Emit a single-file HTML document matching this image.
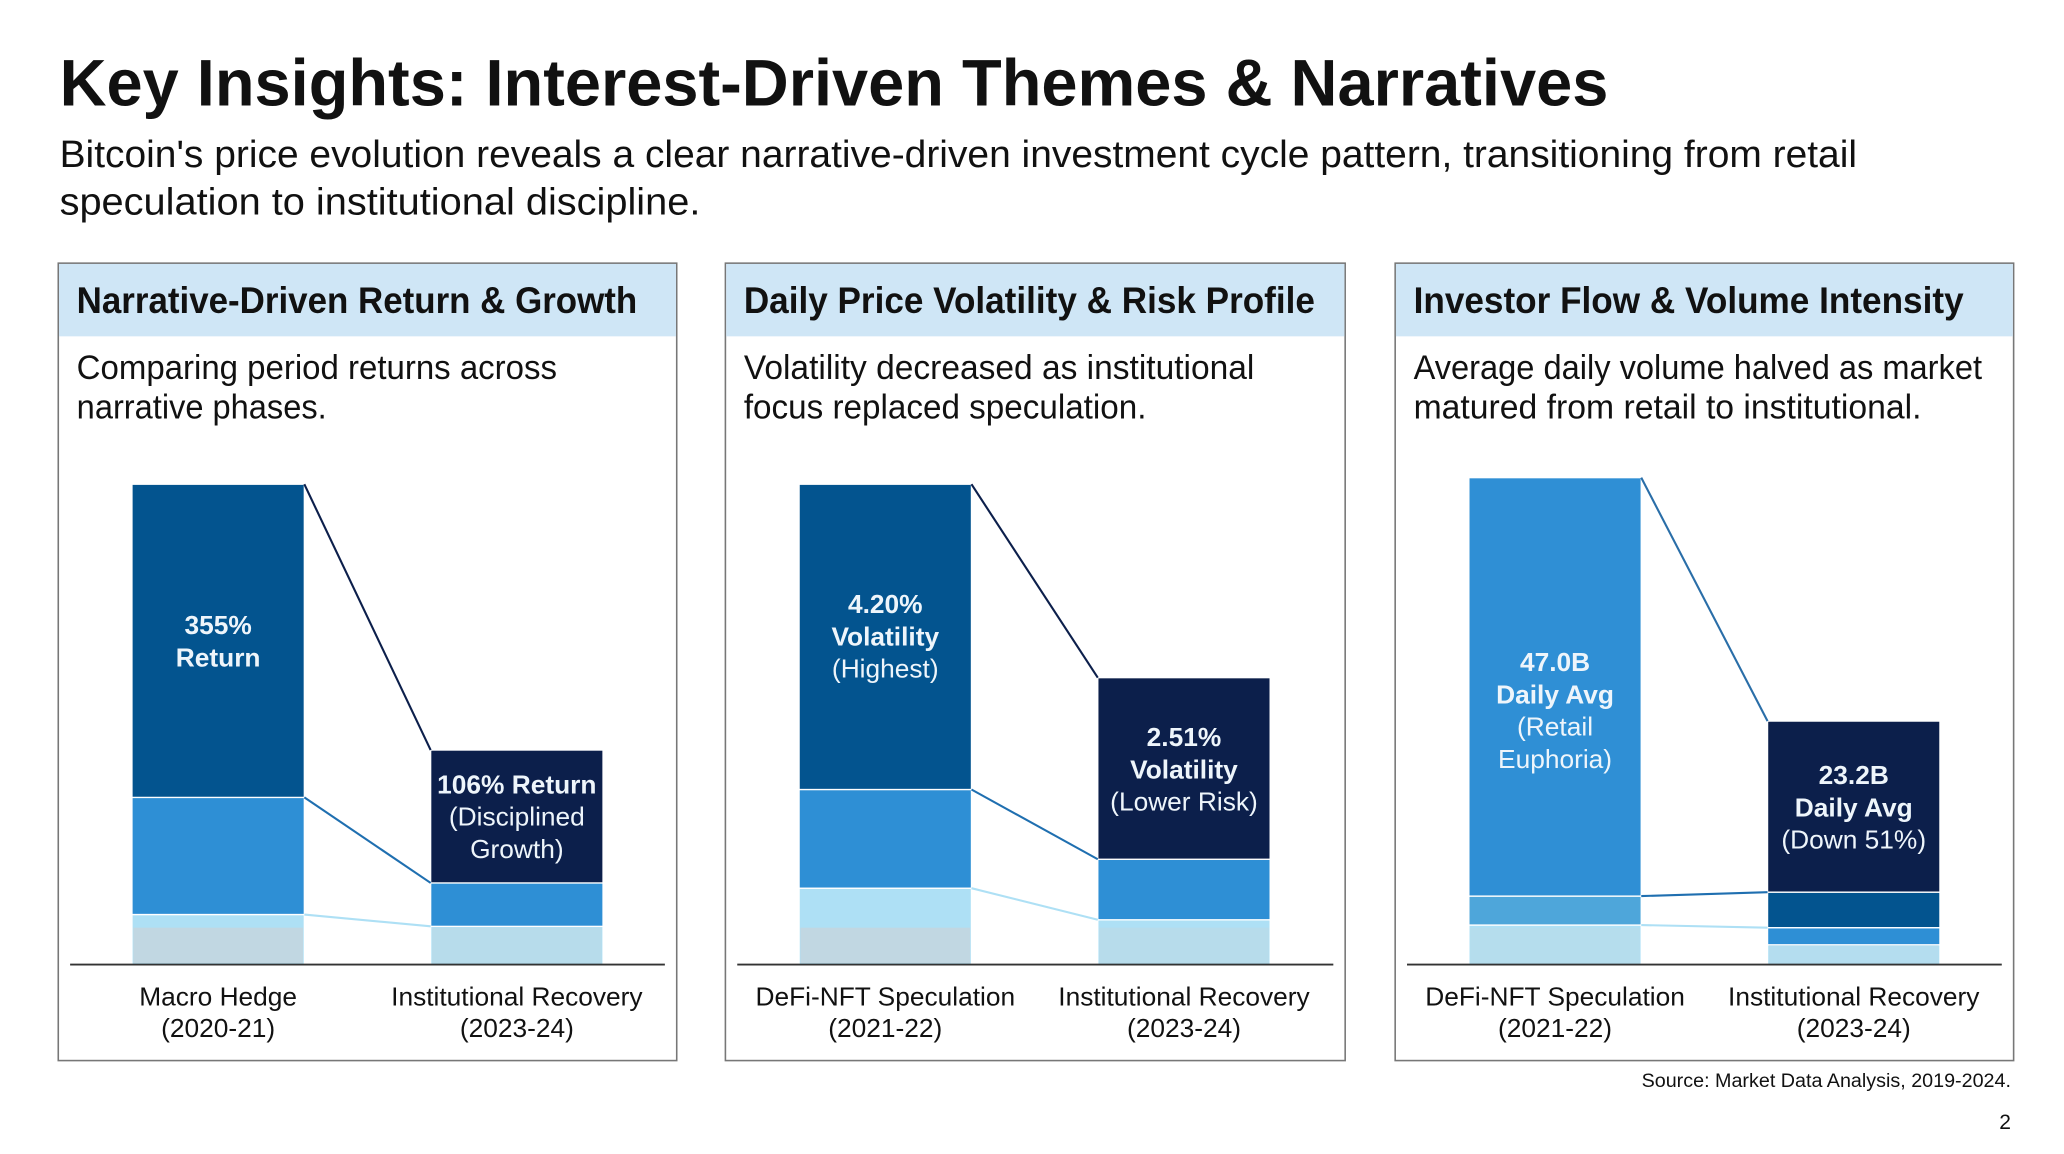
<!DOCTYPE html>
<html><head><meta charset="utf-8"><style>
html,body{margin:0;padding:0;background:#fff;width:2064px;height:1154px;overflow:hidden}
svg{display:block;font-family:"Liberation Sans",sans-serif}
</style></head><body>
<svg id="root" width="2064" height="1154" viewBox="0 0 1568 877" xmlns="http://www.w3.org/2000/svg">
<rect width="1568" height="877" fill="#fff"/>
<text x="45" y="80" font-size="50" font-weight="bold" fill="#111" textLength="1177" lengthAdjust="spacingAndGlyphs">Key Insights: Interest-Driven Themes &amp; Narratives</text>
<text x="45" y="127" font-size="29" fill="#111" textLength="1366" lengthAdjust="spacingAndGlyphs">Bitcoin's price evolution reveals a clear narrative-driven investment cycle pattern, transitioning from retail</text>
<text x="45" y="163" font-size="29" fill="#111" textLength="487" lengthAdjust="spacingAndGlyphs">speculation to institutional discipline.</text>
<g id="panels"></g>
<text x="1528" y="826" font-size="15" fill="#111" text-anchor="end">Source: Market Data Analysis, 2019-2024.</text>
<text x="1528" y="858" font-size="16" fill="#111" text-anchor="end">2</text>
</svg>
<script>
// Panel chart data (segment values bottom->top, in chart units; each unit = 1 plot step)
const panelTitles = ["Narrative-Driven Return & Growth","Daily Price Volatility & Risk Profile","Investor Flow & Volume Intensity"];
const panelDesc1 = ["Comparing period returns across","Volatility decreased as institutional","Average daily volume halved as market"];
const panelDesc2 = ["narrative phases.","focus replaced speculation.","matured from retail to institutional."];
const categoriesA = [["Macro Hedge","(2020-21)"],["DeFi-NFT Speculation","(2021-22)"],["DeFi-NFT Speculation","(2021-22)"]];
const categoriesB = [["Institutional Recovery","(2023-24)"],["Institutional Recovery","(2023-24)"],["Institutional Recovery","(2023-24)"]];
const leftSegments = [[38,89,238],[58,75,232],[30,22,318]];
const rightSegments = [[29,33,101],[34,46,138],[15,13,27,130]];
const leftColors = [["#aee0f5","#2e8fd5","#03548f"],["#aee0f5","#2e8fd5","#03548f"],["#aee0f5","#4ea6da","#2f8fd5"]];
const rightColors = [["#aee0f5","#2e8fd5","#0c1f4b"],["#aee0f5","#2e8fd5","#0c1f4b"],["#aee0f5","#2e8fd5","#03548f","#0c1f4b"]];
const leftLabels = [[["355%",1],["Return",1]],[["4.20%",1],["Volatility",1],["(Highest)",0]],[["47.0B",1],["Daily Avg",1],["(Retail",0],["Euphoria)",0]]];
const rightLabels = [[["106% Return",1],["(Disciplined",0],["Growth)",0]],[["2.51%",1],["Volatility",1],["(Lower Risk)",0]],[["23.2B",1],["Daily Avg",1],["(Down 51%)",0]]];
const leftLabelTop = [482,466,510];
const rightLabelTop = [603,567,596];

const NS="http://www.w3.org/2000/svg";
const g=document.getElementById('panels');
function mk(tag,attrs,parent,txt){const e=document.createElementNS(NS,tag);for(const k in attrs)e.setAttribute(k,attrs[k]);if(txt!==undefined)e.textContent=txt;(parent||g).appendChild(e);return e;}
const panelX=[44,551,1060], panelW=[470,471,470];
const baseY=733;
function yScale(v){return baseY - v;}
const hdrW=[426,434,418], d1W=[365,388,432], d2W=[190,306,386];
const topConn=['#0c1f4b','#0c1f4b','#2a6ea8'];
const texOp=[[0.9,0.45],[0.9,0.45],[0.35,0.3]];
for(let p=0;p<3;p++){
  const x0=panelX[p], w=panelW[p];
  const pg=mk('g',{});
  
  
  const fr=mk('rect',{x:x0,y:200,width:w,height:606,fill:'#fff',stroke:'#777','stroke-width':1.2},pg);
  
  const hb=mk('rect',{x:x0+0.6,y:200.6,width:w-1.2,height:55,fill:'#cfe6f6'},pg);
  
  const ht=mk('text',{x:x0+14,y:238,'font-size':28,'font-weight':'bold',fill:'#111',textLength:hdrW[p],lengthAdjust:'spacingAndGlyphs'},pg,panelTitles[p]);
  
  const t1=mk('text',{x:x0+14,y:288,'font-size':26,fill:'#111',textLength:d1W[p],lengthAdjust:'spacingAndGlyphs'},pg,panelDesc1[p]);
  
  const t2=mk('text',{x:x0+14,y:318,'font-size':26,fill:'#111',textLength:d2W[p],lengthAdjust:'spacingAndGlyphs'},pg,panelDesc2[p]);
  
  const bx=[x0+56,x0+283], bw=131;
  const sets=[leftSegments[p],rightSegments[p]], cols=[leftColors[p],rightColors[p]];
  const bounds=[[],[]];
  for(let b=0;b<2;b++){
    let acc=0; bounds[b].push(yScale(0));
    sets[b].forEach((v,i)=>{
      const y1=yScale(acc+v), y0=yScale(acc);
      const r=mk('rect',{x:bx[b],y:y1,width:bw,height:y0-y1,fill:cols[b][i],stroke:'#fff','stroke-width':1},pg);
      
      
      acc+=v; bounds[b].push(y1);
    });
    if(cols[b][0]==='#aee0f5'){
      const gh=mk('rect',{x:bx[b]+1,y:yScale(Math.min(sets[b][0],28)),width:bw-2,height:Math.min(sets[b][0],28)-1,fill:'#c3d6e0',opacity:texOp[p][b]},pg);
      
    }
  }
  const L=bounds[0].slice(1).reverse(), R=bounds[1].slice(1).reverse();
  const lc=[topConn[p],'#1f6fb0','#aee0f5'];
  for(let i=0;i<3;i++){
    const ln=mk('line',{x1:bx[0]+bw,y1:L[i],x2:bx[1],y2:R[i],stroke:lc[i],'stroke-width':1.6},pg);
    
  }
  const ax=mk('line',{x1:x0+9,y1:baseY,x2:x0+w-9,y2:baseY,stroke:'#333','stroke-width':1.4},pg);
  
  const labs=[leftLabels[p],rightLabels[p]], tops=[leftLabelTop[p],rightLabelTop[p]];
  for(let b=0;b<2;b++){
    labs[b].forEach((l,i)=>{
      const t=mk('text',{x:bx[b]+bw/2,y:tops[b]+i*24.5,'font-size':20,'font-weight':l[1]?'bold':'normal',fill:'#eef5fb','text-anchor':'middle'},pg,l[0]);
      
    });
    const cat=b?categoriesB[p]:categoriesA[p];
    cat.forEach((c,i)=>{
      const t=mk('text',{x:bx[b]+bw/2,y:764+i*24,'font-size':20,fill:'#111','text-anchor':'middle'},pg,c);
      
    });
  }
}
</script>
</body></html>
